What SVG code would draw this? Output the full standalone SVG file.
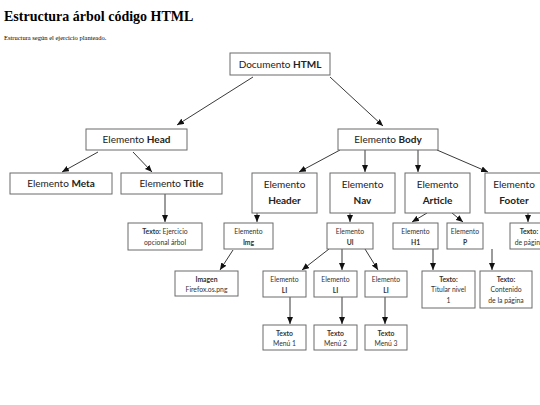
<svg xmlns="http://www.w3.org/2000/svg" width="540" height="405" viewBox="0 0 540 405">
<defs>
<style>
.box{fill:#fff;stroke:#6b6b6b;stroke-width:1}
.t{font-family:Lato,"Liberation Sans",sans-serif;fill:#222;text-anchor:middle}
.m{font-size:10px}
.s{font-size:6.8px;fill:#333}
.b{font-weight:bold}
.c{stroke:#222;stroke-width:0.9;fill:none;marker-end:url(#ah)}
</style>
<marker id="ah" markerWidth="7" markerHeight="6" refX="7" refY="3" orient="auto" markerUnits="userSpaceOnUse">
<path d="M0,0 L7,3 L0,6 z" fill="#111"/>
</marker>
</defs>
<rect width="540" height="405" fill="#fff"/>
<text x="4" y="21" font-family="'Liberation Serif',serif" font-weight="bold" font-size="14" fill="#000">Estructura árbol código HTML</text>
<text x="4" y="40" font-family="'Liberation Serif',serif" font-size="6.5" fill="#000">Estructura según el ejercicio planteado.</text>

<g id="connectors">
<line class="c" x1="253" y1="77" x2="177" y2="125"/>
<line class="c" x1="330" y1="77" x2="383" y2="126"/>
<line class="c" x1="98" y1="152" x2="62" y2="172"/>
<line class="c" x1="133" y1="152" x2="152" y2="172"/>
<line class="c" x1="165" y1="194" x2="165" y2="222"/>
<line class="c" x1="340" y1="150" x2="299" y2="172"/>
<line class="c" x1="365" y1="150" x2="365" y2="172"/>
<line class="c" x1="418" y1="150" x2="418" y2="172"/>
<line class="c" x1="437" y1="150" x2="488" y2="172"/>
<line class="c" x1="257" y1="213" x2="257" y2="222"/>
<line class="c" x1="350" y1="213" x2="350" y2="222"/>
<line class="c" x1="427" y1="213" x2="412" y2="222"/>
<line class="c" x1="452" y1="213" x2="463" y2="222"/>
<line class="c" x1="528" y1="213" x2="528" y2="222"/>
<line class="c" x1="233" y1="250" x2="220" y2="270"/>
<line class="c" x1="329" y1="249" x2="302" y2="270"/>
<line class="c" x1="342" y1="249" x2="342" y2="270"/>
<line class="c" x1="365" y1="249" x2="378" y2="270"/>
<line class="c" x1="433" y1="249" x2="433" y2="270"/>
<line class="c" x1="492" y1="249" x2="492" y2="270"/>
<line class="c" x1="290" y1="297" x2="290" y2="324"/>
<line class="c" x1="342" y1="297" x2="342" y2="324"/>
<line class="c" x1="385" y1="297" x2="385" y2="324"/>
</g>

<g id="n-html"><rect class="box" x="230" y="53" width="100" height="22"/><text class="t m" x="280" y="67.5">Documento <tspan class="b">HTML</tspan></text></g>
<g id="n-head"><rect class="box" x="86" y="129" width="101" height="21"/><text class="t m" x="136.5" y="143">Elemento <tspan class="b">Head</tspan></text></g>
<g id="n-body"><rect class="box" x="338" y="129" width="100" height="21"/><text class="t m" x="388" y="143">Elemento <tspan class="b">Body</tspan></text></g>
<g id="n-meta"><rect class="box" x="10" y="173" width="102" height="21"/><text class="t m" x="61" y="187">Elemento <tspan class="b">Meta</tspan></text></g>
<g id="n-title"><rect class="box" x="121" y="173" width="101" height="21"/><text class="t m" x="171.5" y="187">Elemento <tspan class="b">Title</tspan></text></g>
<g id="n-header"><rect class="box" x="252" y="173" width="65" height="40"/><text class="t m" x="284.5" y="188">Elemento</text><text class="t m b" x="284.5" y="204">Header</text></g>
<g id="n-nav"><rect class="box" x="330" y="173" width="65" height="40"/><text class="t m" x="362.5" y="188">Elemento</text><text class="t m b" x="362.5" y="204">Nav</text></g>
<g id="n-article"><rect class="box" x="405" y="173" width="65" height="40"/><text class="t m" x="437.5" y="188">Elemento</text><text class="t m b" x="437.5" y="204">Article</text></g>
<g id="n-footer"><rect class="box" x="485" y="173" width="60" height="40"/><text class="t m" x="514" y="188">Elemento</text><text class="t m b" x="514" y="204">Footer</text></g>

<g id="n-texto-title"><rect class="box" x="128" y="223" width="74" height="27"/><text class="t s" x="165" y="234"><tspan class="b">Texto:</tspan> Ejercicio</text><text class="t s" x="165" y="245">opcional árbol</text></g>
<g id="n-img"><rect class="box" x="224" y="223" width="49" height="26"/><text class="t s" x="248.5" y="234">Elemento</text><text class="t s b" x="248.5" y="244.5">Img</text></g>
<g id="n-ul"><rect class="box" x="327" y="223" width="46" height="26"/><text class="t s" x="350" y="234">Elemento</text><text class="t s b" x="350" y="244.5">Ul</text></g>
<g id="n-h1"><rect class="box" x="393" y="223" width="45" height="26"/><text class="t s" x="415.5" y="234">Elemento</text><text class="t s b" x="415.5" y="244.5">H1</text></g>
<g id="n-p"><rect class="box" x="447" y="223" width="36" height="26"/><text class="t s" x="465" y="234">Elemento</text><text class="t s b" x="465" y="244.5">P</text></g>
<g id="n-texto-footer"><rect class="box" x="510" y="223" width="40" height="26"/><text class="t s" x="529" y="234"><tspan class="b">Texto:</tspan></text><text class="t s" x="529" y="244.5">de página</text></g>

<g id="n-imagen"><rect class="box" x="175" y="271" width="63" height="25"/><text class="t s b" x="206.5" y="282">Imagen</text><text class="t s" x="206.5" y="292">Firefox.os.png</text></g>
<g id="n-li1"><rect class="box" x="263" y="271" width="43" height="26"/><text class="t s" x="284.5" y="282">Elemento</text><text class="t s b" x="284.5" y="292.5">LI</text></g>
<g id="n-li2"><rect class="box" x="314" y="271" width="43" height="26"/><text class="t s" x="335.5" y="282">Elemento</text><text class="t s b" x="335.5" y="292.5">LI</text></g>
<g id="n-li3"><rect class="box" x="365" y="271" width="42" height="26"/><text class="t s" x="386" y="282">Elemento</text><text class="t s b" x="386" y="292.5">LI</text></g>
<g id="n-titular"><rect class="box" x="422" y="271" width="53" height="37"/><text class="t s b" x="448.5" y="281.5">Texto:</text><text class="t s" x="448.5" y="292">Titular nivel</text><text class="t s" x="448.5" y="302.5">1</text></g>
<g id="n-contenido"><rect class="box" x="480" y="271" width="52" height="37"/><text class="t s b" x="506" y="281.5">Texto:</text><text class="t s" x="506" y="292">Contenido</text><text class="t s" x="506" y="302.5">de la página</text></g>

<g id="n-menu1"><rect class="box" x="263" y="325" width="43" height="25"/><text class="t s b" x="284.5" y="335.5">Texto</text><text class="t s" x="284.5" y="346">Menú 1</text></g>
<g id="n-menu2"><rect class="box" x="314" y="325" width="43" height="25"/><text class="t s b" x="335.5" y="335.5">Texto</text><text class="t s" x="335.5" y="346">Menú 2</text></g>
<g id="n-menu3"><rect class="box" x="365" y="325" width="42" height="25"/><text class="t s b" x="386" y="335.5">Texto</text><text class="t s" x="386" y="346">Menú 3</text></g>
</svg>
